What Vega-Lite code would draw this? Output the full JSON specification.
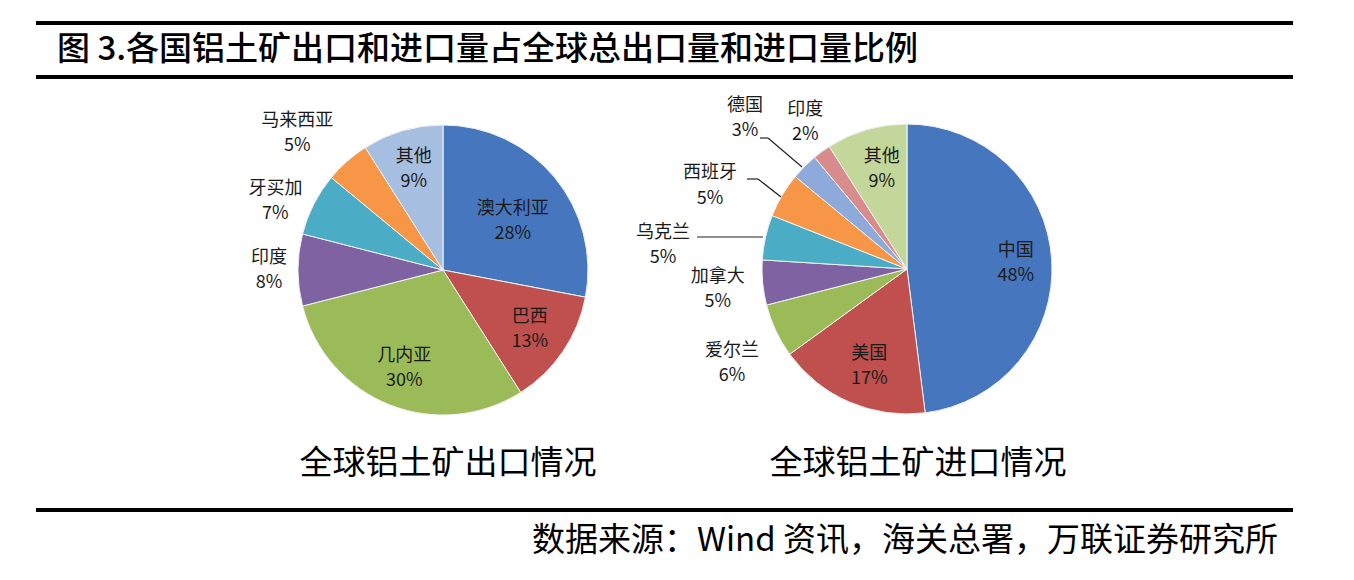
{
  "$schema": "https://vega.github.io/schema/vega-lite/v6.json",
  "width": 1354,
  "height": 580,
  "autosize": {"type": "fit", "contains": "padding"},
  "padding": 0,
  "background": "white",
  "config": {"view": {"stroke": null}, "text": {"font": "Noto Sans CJK SC"}},
  "datasets": {
    "export": [
      {"idx": 1, "name": "澳大利亚", "value": 0.28},
      {"idx": 2, "name": "巴西", "value": 0.13},
      {"idx": 3, "name": "几内亚", "value": 0.30},
      {"idx": 4, "name": "印度", "value": 0.08},
      {"idx": 5, "name": "牙买加", "value": 0.07},
      {"idx": 6, "name": "马来西亚", "value": 0.05},
      {"idx": 7, "name": "其他", "value": 0.09}
    ],
    "import": [
      {"idx": 1, "name": "中国", "value": 0.48},
      {"idx": 2, "name": "美国", "value": 0.17},
      {"idx": 3, "name": "爱尔兰", "value": 0.06},
      {"idx": 4, "name": "加拿大", "value": 0.05},
      {"idx": 5, "name": "乌克兰", "value": 0.05},
      {"idx": 6, "name": "西班牙", "value": 0.05},
      {"idx": 7, "name": "德国", "value": 0.03},
      {"idx": 8, "name": "印度", "value": 0.02},
      {"idx": 9, "name": "其他", "value": 0.09}
    ],
    "one": [{}]
  },
  "layer": [
    {"data": {"name": "one"}, "mark": {"type": "rule", "strokeWidth": 4, "color": "#000000"}, "encoding": {"x": {"value": 36}, "x2": {"value": 1293}, "y": {"value": 23}, "y2": {"value": 23}}},
    {"data": {"name": "one"}, "mark": {"type": "rule", "strokeWidth": 4, "color": "#000000"}, "encoding": {"x": {"value": 36}, "x2": {"value": 1293}, "y": {"value": 77}, "y2": {"value": 77}}},
    {"data": {"name": "one"}, "mark": {"type": "rule", "strokeWidth": 4, "color": "#000000"}, "encoding": {"x": {"value": 36}, "x2": {"value": 1293}, "y": {"value": 510}, "y2": {"value": 510}}},
    {"data": {"name": "one"}, "mark": {"type": "rule", "strokeWidth": 1.2, "color": "#222222"}, "encoding": {"x": {"value": 697}, "x2": {"value": 763}, "y": {"value": 237}, "y2": {"value": 237}}},
    {"data": {"name": "one"}, "mark": {"type": "rule", "strokeWidth": 1.2, "color": "#222222"}, "encoding": {"x": {"value": 747}, "x2": {"value": 758}, "y": {"value": 179}, "y2": {"value": 179}}},
    {"data": {"name": "one"}, "mark": {"type": "rule", "strokeWidth": 1.2, "color": "#222222"}, "encoding": {"x": {"value": 758}, "x2": {"value": 781}, "y": {"value": 179}, "y2": {"value": 197}}},
    {"data": {"name": "one"}, "mark": {"type": "rule", "strokeWidth": 1.2, "color": "#222222"}, "encoding": {"x": {"value": 760}, "x2": {"value": 768}, "y": {"value": 138}, "y2": {"value": 138}}},
    {"data": {"name": "one"}, "mark": {"type": "rule", "strokeWidth": 1.2, "color": "#222222"}, "encoding": {"x": {"value": 768}, "x2": {"value": 802}, "y": {"value": 138}, "y2": {"value": 167}}},
    {"data": {"name": "one"}, "mark": {"type": "text", "x": 57, "y": 50, "align": "left", "baseline": "middle", "fontSize": 33, "fontWeight": 500, "fill": "#000000", "text": "图 3.各国铝土矿出口和进口量占全球总出口量和进口量比例"}, "encoding": {}},
    {"data": {"name": "one"}, "mark": {"type": "text", "x": 448, "y": 464, "align": "center", "baseline": "middle", "fontSize": 33, "fill": "#000000", "text": "全球铝土矿出口情况"}, "encoding": {}},
    {"data": {"name": "one"}, "mark": {"type": "text", "x": 918, "y": 464, "align": "center", "baseline": "middle", "fontSize": 33, "fill": "#000000", "text": "全球铝土矿进口情况"}, "encoding": {}},
    {"data": {"name": "one"}, "mark": {"type": "text", "x": 1278, "y": 541, "align": "right", "baseline": "middle", "fontSize": 33, "fill": "#000000", "text": "数据来源：Wind 资讯，海关总署，万联证券研究所"}, "encoding": {}},
    {
      "data": {"name": "export"},
      "encoding": {
        "theta": {"field": "value", "type": "quantitative", "stack": true},
        "order": {"field": "idx", "type": "quantitative"},
        "detail": {"field": "name", "type": "nominal"}
      },
      "layer": [
        {
          "mark": {"type": "arc", "x": 443, "y": 270, "outerRadius": 145, "stroke": "#f2f2f2", "strokeWidth": 1},
          "encoding": {
            "color": {"field": "name", "type": "nominal", "legend": null,
              "scale": {"domain": ["澳大利亚", "巴西", "几内亚", "印度", "牙买加", "马来西亚", "其他"],
                        "range": ["#4677BE", "#C0504D", "#9BBB59", "#7F62A1", "#4BACC6", "#F79646", "#A6BEE0"]}}
          }
        },
        {
          "mark": {"type": "text", "x": 443, "y": 270, "radius": 84, "dx": 5, "dy": -7, "fontSize": 18, "fill": "#1a1a1a"},
          "encoding": {"text": {"field": "name", "type": "nominal", "condition": {"test": "datum.name !== '澳大利亚'", "value": ""}}}
        },
        {
          "mark": {"type": "text", "x": 443, "y": 270, "radius": 84, "dx": 5, "dy": 18, "fontSize": 18, "fill": "#1a1a1a"},
          "encoding": {"text": {"field": "value", "type": "quantitative", "format": ".0%", "condition": {"test": "datum.name !== '澳大利亚'", "value": ""}}}
        },
        {
          "mark": {"type": "text", "x": 443, "y": 270, "radius": 105, "dy": -12, "fontSize": 18, "fill": "#1a1a1a"},
          "encoding": {"text": {"field": "name", "type": "nominal", "condition": {"test": "indexof(['巴西','几内亚','其他'], datum.name) < 0", "value": ""}}}
        },
        {
          "mark": {"type": "text", "x": 443, "y": 270, "radius": 105, "dy": 13, "fontSize": 18, "fill": "#1a1a1a"},
          "encoding": {"text": {"field": "value", "type": "quantitative", "format": ".0%", "condition": {"test": "indexof(['巴西','几内亚','其他'], datum.name) < 0", "value": ""}}}
        },
        {
          "mark": {"type": "text", "x": 443, "y": 270, "radius": 178, "dx": 4, "dy": -12, "fontSize": 18, "fill": "#1a1a1a"},
          "encoding": {"text": {"field": "name", "type": "nominal", "condition": {"test": "datum.name !== '印度'", "value": ""}}}
        },
        {
          "mark": {"type": "text", "x": 443, "y": 270, "radius": 178, "dx": 4, "dy": 13, "fontSize": 18, "fill": "#1a1a1a"},
          "encoding": {"text": {"field": "value", "type": "quantitative", "format": ".0%", "condition": {"test": "datum.name !== '印度'", "value": ""}}}
        },
        {
          "mark": {"type": "text", "x": 443, "y": 270, "radius": 178, "dx": -9, "dy": 0, "fontSize": 18, "fill": "#1a1a1a"},
          "encoding": {"text": {"field": "name", "type": "nominal", "condition": {"test": "datum.name !== '牙买加'", "value": ""}}}
        },
        {
          "mark": {"type": "text", "x": 443, "y": 270, "radius": 178, "dx": -9, "dy": 25, "fontSize": 18, "fill": "#1a1a1a"},
          "encoding": {"text": {"field": "value", "type": "quantitative", "format": ".0%", "condition": {"test": "datum.name !== '牙买加'", "value": ""}}}
        },
        {
          "mark": {"type": "text", "x": 443, "y": 270, "radius": 190, "dx": -20, "dy": -6, "fontSize": 18, "fill": "#1a1a1a"},
          "encoding": {"text": {"field": "name", "type": "nominal", "condition": {"test": "datum.name !== '马来西亚'", "value": ""}}}
        },
        {
          "mark": {"type": "text", "x": 443, "y": 270, "radius": 190, "dx": -20, "dy": 19, "fontSize": 18, "fill": "#1a1a1a"},
          "encoding": {"text": {"field": "value", "type": "quantitative", "format": ".0%", "condition": {"test": "datum.name !== '马来西亚'", "value": ""}}}
        }
      ]
    },
    {
      "data": {"name": "import"},
      "encoding": {
        "theta": {"field": "value", "type": "quantitative", "stack": true},
        "order": {"field": "idx", "type": "quantitative"},
        "detail": {"field": "name", "type": "nominal"}
      },
      "layer": [
        {
          "mark": {"type": "arc", "x": 907, "y": 269, "outerRadius": 145, "stroke": "#f2f2f2", "strokeWidth": 1},
          "encoding": {
            "color": {"field": "name", "type": "nominal", "legend": null,
              "scale": {"domain": ["中国", "美国", "爱尔兰", "加拿大", "乌克兰", "西班牙", "德国", "印度", "其他"],
                        "range": ["#4677BE", "#C0504D", "#9BBB59", "#7F62A1", "#4BACC6", "#F79646", "#8EAADB", "#D98C8C", "#C4D79B"]}}
          }
        },
        {
          "mark": {"type": "text", "x": 907, "y": 269, "radius": 105, "dx": 4, "dy": -11, "fontSize": 18, "fill": "#1a1a1a"},
          "encoding": {"text": {"field": "name", "type": "nominal", "condition": {"test": "indexof(['中国','美国','其他'], datum.name) < 0", "value": ""}}}
        },
        {
          "mark": {"type": "text", "x": 907, "y": 269, "radius": 105, "dx": 4, "dy": 14, "fontSize": 18, "fill": "#1a1a1a"},
          "encoding": {"text": {"field": "value", "type": "quantitative", "format": ".0%", "condition": {"test": "indexof(['中国','美国','其他'], datum.name) < 0", "value": ""}}}
        },
        {
          "mark": {"type": "text", "x": 907, "y": 269, "radius": 190, "dy": -10, "fontSize": 18, "fill": "#1a1a1a"},
          "encoding": {"text": {"field": "name", "type": "nominal", "condition": {"test": "datum.name !== '加拿大'", "value": ""}}}
        },
        {
          "mark": {"type": "text", "x": 907, "y": 269, "radius": 190, "dy": 15, "fontSize": 18, "fill": "#1a1a1a"},
          "encoding": {"text": {"field": "value", "type": "quantitative", "format": ".0%", "condition": {"test": "datum.name !== '加拿大'", "value": ""}}}
        },
        {
          "mark": {"type": "text", "x": 907, "y": 269, "radius": 190, "dx": -3, "dy": 1, "fontSize": 18, "fill": "#1a1a1a"},
          "encoding": {"text": {"field": "name", "type": "nominal", "condition": {"test": "datum.name !== '爱尔兰'", "value": ""}}}
        },
        {
          "mark": {"type": "text", "x": 907, "y": 269, "radius": 190, "dx": -3, "dy": 26, "fontSize": 18, "fill": "#1a1a1a"},
          "encoding": {"text": {"field": "value", "type": "quantitative", "format": ".0%", "condition": {"test": "datum.name !== '爱尔兰'", "value": ""}}}
        },
        {
          "mark": {"type": "text", "x": 907, "y": 269, "radius": 190, "dx": 10, "dy": -5, "fontSize": 18, "fill": "#1a1a1a"},
          "encoding": {"text": {"field": "name", "type": "nominal", "condition": {"test": "datum.name !== '印度'", "value": ""}}}
        },
        {
          "mark": {"type": "text", "x": 907, "y": 269, "radius": 190, "dx": 10, "dy": 20, "fontSize": 18, "fill": "#1a1a1a"},
          "encoding": {"text": {"field": "value", "type": "quantitative", "format": ".0%", "condition": {"test": "datum.name !== '印度'", "value": ""}}}
        },
        {
          "mark": {"type": "text", "x": 907, "y": 269, "radius": 215, "dx": -10, "dy": -11, "fontSize": 18, "fill": "#1a1a1a"},
          "encoding": {"text": {"field": "name", "type": "nominal", "condition": {"test": "datum.name !== '德国'", "value": ""}}}
        },
        {
          "mark": {"type": "text", "x": 907, "y": 269, "radius": 215, "dx": -10, "dy": 14, "fontSize": 18, "fill": "#1a1a1a"},
          "encoding": {"text": {"field": "value", "type": "quantitative", "format": ".0%", "condition": {"test": "datum.name !== '德国'", "value": ""}}}
        },
        {
          "mark": {"type": "text", "x": 907, "y": 269, "radius": 215, "dx": -12, "dy": 13, "fontSize": 18, "fill": "#1a1a1a"},
          "encoding": {"text": {"field": "name", "type": "nominal", "condition": {"test": "datum.name !== '西班牙'", "value": ""}}}
        },
        {
          "mark": {"type": "text", "x": 907, "y": 269, "radius": 215, "dx": -12, "dy": 39, "fontSize": 18, "fill": "#1a1a1a"},
          "encoding": {"text": {"field": "value", "type": "quantitative", "format": ".0%", "condition": {"test": "datum.name !== '西班牙'", "value": ""}}}
        },
        {
          "mark": {"type": "text", "x": 907, "y": 269, "radius": 250, "dy": 19, "fontSize": 18, "fill": "#1a1a1a"},
          "encoding": {"text": {"field": "name", "type": "nominal", "condition": {"test": "datum.name !== '乌克兰'", "value": ""}}}
        },
        {
          "mark": {"type": "text", "x": 907, "y": 269, "radius": 250, "dy": 44, "fontSize": 18, "fill": "#1a1a1a"},
          "encoding": {"text": {"field": "value", "type": "quantitative", "format": ".0%", "condition": {"test": "datum.name !== '乌克兰'", "value": ""}}}
        }
      ]
    }
  ],
  "resolve": {"scale": {"theta": "independent", "color": "independent"}}
}
